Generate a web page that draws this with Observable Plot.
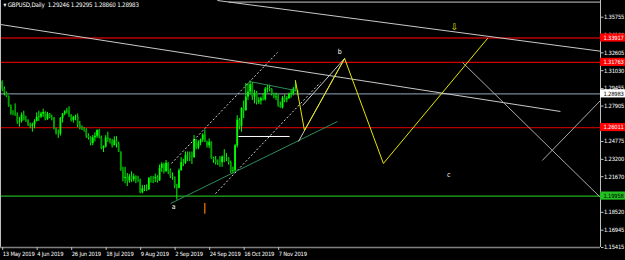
<!DOCTYPE html>
<html><head><meta charset="utf-8">
<script src="https://cdn.jsdelivr.net/npm/d3@7"></script>
<script src="https://cdn.jsdelivr.net/npm/@observablehq/plot@0.6"></script>
<style>
html,body{margin:0;padding:0;background:#000;overflow:hidden;}
#chart svg{display:block;}
</style></head><body><div id="chart"></div>
<script>
// ---- bar dates (GBPUSD daily) ----
const barDates = [
"2019-05-13","2019-05-14","2019-05-15","2019-05-16","2019-05-17","2019-05-20","2019-05-21","2019-05-22","2019-05-23","2019-05-24",
"2019-05-27","2019-05-28","2019-05-29","2019-05-30","2019-05-31","2019-06-03","2019-06-04","2019-06-05","2019-06-06","2019-06-07",
"2019-06-10","2019-06-11","2019-06-12","2019-06-13","2019-06-14","2019-06-17","2019-06-18","2019-06-19","2019-06-20","2019-06-21",
"2019-06-24","2019-06-25","2019-06-26","2019-06-27","2019-06-28","2019-07-01","2019-07-02","2019-07-03","2019-07-04","2019-07-05",
"2019-07-08","2019-07-09","2019-07-10","2019-07-11","2019-07-12","2019-07-15","2019-07-16","2019-07-17","2019-07-18","2019-07-19",
"2019-07-22","2019-07-23","2019-07-24","2019-07-25","2019-07-26","2019-07-29","2019-07-30","2019-07-31","2019-08-01","2019-08-02",
"2019-08-05","2019-08-06","2019-08-07","2019-08-08","2019-08-09","2019-08-12","2019-08-13","2019-08-14","2019-08-15","2019-08-16",
"2019-08-19","2019-08-20","2019-08-21","2019-08-22","2019-08-23","2019-08-26","2019-08-27","2019-08-28","2019-08-29","2019-08-30",
"2019-09-02","2019-09-03","2019-09-04","2019-09-05","2019-09-06","2019-09-09","2019-09-10","2019-09-11","2019-09-12","2019-09-13",
"2019-09-16","2019-09-17","2019-09-18","2019-09-19","2019-09-20","2019-09-23","2019-09-24","2019-09-25","2019-09-26","2019-09-27",
"2019-09-30","2019-10-01","2019-10-02","2019-10-03","2019-10-04","2019-10-07","2019-10-08","2019-10-09","2019-10-10","2019-10-11",
"2019-10-14","2019-10-15","2019-10-16","2019-10-17","2019-10-18","2019-10-21","2019-10-22","2019-10-23","2019-10-24","2019-10-25",
"2019-10-28","2019-10-29","2019-10-30","2019-10-31","2019-11-01","2019-11-04","2019-11-05","2019-11-06","2019-11-07","2019-11-08",
"2019-11-11","2019-11-12","2019-11-13","2019-11-14","2019-11-15","2019-11-18","2019-11-19","2019-11-20"];
const opens = [
1.3005,1.2940,1.2905,1.2870,1.2790,1.2720,1.2720,1.2715,1.2650,1.2655,
1.2710,1.2665,1.2660,1.2625,1.2610,1.2625,1.2655,1.2690,1.2695,1.2720,
1.2735,1.2670,1.2720,1.2690,1.2685,1.2590,1.2545,1.2545,1.2680,1.2720,
1.2740,1.2745,1.2705,1.2665,1.2690,1.2695,1.2625,1.2590,1.2580,1.2575,
1.2525,1.2510,1.2460,1.2510,1.2525,1.2575,1.2515,1.2415,1.2430,1.2510,
1.2495,1.2475,1.2440,1.2485,1.2455,1.2385,1.2220,1.2150,1.2160,1.2130,
1.2165,1.2140,1.2165,1.2140,1.2140,1.2025,1.2060,1.2055,1.2050,1.2150,
1.2150,1.2150,1.2160,1.2130,1.2240,1.2275,1.2210,1.2285,1.2220,1.2165,
1.2160,1.2075,1.2065,1.2220,1.2290,1.2285,1.2355,1.2350,1.2335,1.2335,
1.2495,1.2420,1.2465,1.2490,1.2535,1.2470,1.2440,1.2470,1.2330,1.2315,
1.2290,1.2290,1.2290,1.2340,1.2335,1.2330,1.2290,1.2215,1.2220,1.2440,
1.2665,1.2610,1.2770,1.2750,1.2870,1.2915,1.2980,1.2870,1.2900,1.2825,
1.2835,1.2855,1.2845,1.2940,1.2945,1.2935,1.2895,1.2865,1.2870,1.2795,
1.2775,1.2860,1.2845,1.2855,1.2895,1.2900,1.2940,1.29246];
const highs = [
1.3014,1.2960,1.2915,1.2880,1.2800,1.2750,1.2810,1.2730,1.2690,1.2730,
1.2745,1.2700,1.2670,1.2640,1.2640,1.2670,1.2730,1.2745,1.2735,1.2763,
1.2740,1.2735,1.2725,1.2710,1.2690,1.2595,1.2580,1.2690,1.2725,1.2750,
1.2770,1.2784,1.2715,1.2700,1.2710,1.2720,1.2655,1.2615,1.2600,1.2590,
1.2545,1.2520,1.2530,1.2555,1.2580,1.2585,1.2525,1.2440,1.2530,1.2560,
1.2505,1.2495,1.2520,1.2520,1.2470,1.2385,1.2250,1.2250,1.2195,1.2185,
1.2210,1.2190,1.2175,1.2170,1.2145,1.2090,1.2090,1.2095,1.2160,1.2170,
1.2170,1.2190,1.2175,1.2270,1.2290,1.2285,1.2310,1.2290,1.2235,1.2200,
1.2165,1.2100,1.2235,1.2335,1.2320,1.2385,1.2385,1.2385,1.2385,1.2530,
1.2495,1.2485,1.2500,1.2545,1.2580,1.2480,1.2500,1.2475,1.2340,1.2345,
1.2315,1.2345,1.2350,1.2405,1.2370,1.2335,1.2305,1.2250,1.2450,1.2705,
1.2680,1.2775,1.2835,1.2990,1.2990,1.3013,1.3000,1.2930,1.2920,1.2865,
1.2870,1.2900,1.2955,1.2975,1.2975,1.2945,1.2905,1.2905,1.2890,1.2825,
1.2875,1.2890,1.2875,1.2905,1.2935,1.2955,1.3000,1.29295];
const lows = [
1.2918,1.2880,1.2865,1.2780,1.2710,1.2705,1.2700,1.2630,1.2605,1.2640,
1.2660,1.2645,1.2610,1.2590,1.2560,1.2590,1.2650,1.2655,1.2680,1.2690,
1.2660,1.2665,1.2680,1.2660,1.2580,1.2535,1.2505,1.2525,1.2640,1.2705,
1.2720,1.2690,1.2650,1.2640,1.2660,1.2600,1.2580,1.2575,1.2560,1.2505,
1.2490,1.2440,1.2440,1.2475,1.2505,1.2500,1.2405,1.2380,1.2420,1.2470,
1.2455,1.2420,1.2440,1.2420,1.2380,1.2215,1.2120,1.2105,1.2080,1.2110,
1.2115,1.2120,1.2105,1.2115,1.2015,1.2015,1.2035,1.2035,1.2045,1.2110,
1.2105,1.2115,1.2110,1.2125,1.2205,1.2190,1.2205,1.2185,1.2150,1.2135,
1.2060,1.1959,1.2060,1.2215,1.2255,1.2275,1.2300,1.2300,1.2275,1.2330,
1.2405,1.2405,1.2440,1.2470,1.2470,1.2420,1.2415,1.2320,1.2285,1.2270,
1.2265,1.2250,1.2250,1.2290,1.2300,1.2270,1.2195,1.2190,1.2205,1.2420,
1.2580,1.2560,1.2680,1.2745,1.2840,1.2890,1.2840,1.2810,1.2800,1.2805,
1.2800,1.2835,1.2835,1.2905,1.2915,1.2880,1.2855,1.2840,1.2780,1.2770,
1.2765,1.2820,1.2820,1.2850,1.2860,1.2880,1.2915,1.28860];
const closes = [
1.2940,1.2905,1.2870,1.2790,1.2720,1.2720,1.2715,1.2650,1.2655,1.2710,
1.2665,1.2660,1.2625,1.2610,1.2625,1.2655,1.2690,1.2695,1.2720,1.2735,
1.2670,1.2720,1.2690,1.2685,1.2590,1.2545,1.2545,1.2680,1.2720,1.2740,
1.2745,1.2705,1.2665,1.2690,1.2695,1.2625,1.2590,1.2580,1.2575,1.2525,
1.2510,1.2460,1.2510,1.2525,1.2575,1.2515,1.2415,1.2430,1.2510,1.2495,
1.2475,1.2440,1.2485,1.2455,1.2385,1.2220,1.2150,1.2160,1.2130,1.2165,
1.2140,1.2165,1.2140,1.2140,1.2025,1.2060,1.2055,1.2050,1.2150,1.2150,
1.2150,1.2160,1.2130,1.2240,1.2275,1.2210,1.2285,1.2220,1.2165,1.2160,
1.2075,1.2065,1.2220,1.2290,1.2285,1.2355,1.2350,1.2335,1.2335,1.2495,
1.2420,1.2465,1.2490,1.2535,1.2470,1.2440,1.2470,1.2330,1.2315,1.2290,
1.2290,1.2290,1.2340,1.2335,1.2330,1.2290,1.2215,1.2220,1.2440,1.2665,
1.2610,1.2770,1.2750,1.2870,1.2915,1.2980,1.2870,1.2900,1.2825,1.2835,
1.2855,1.2845,1.2940,1.2945,1.2935,1.2895,1.2865,1.2870,1.2795,1.2775,
1.2860,1.2845,1.2855,1.2895,1.2900,1.2940,1.2925,1.28983];

// ---- axis ticks ----
const xTickBars = [0,16,32,48,64,80,96,112,128];
const xTickLabels = ["13 May 2019","4 Jun 2019","26 Jun 2019","18 Jul 2019","9 Aug 2019","2 Sep 2019","24 Sep 2019","16 Oct 2019","7 Nov 2019"];
const yTicks = [1.35755,1.34180,1.32605,1.31030,1.29455,1.27905,1.24775,1.23200,1.21670,1.18520,1.16945,1.15415];

// ---- horizontal levels ----
const levelPrices = [1.33917,1.31763,1.26011,1.19958];
const levelColors = ["#8b0000","#d00000","#b80000","#1fb01f"];
const levelWidths = [2.2,1.2,1.2,1.2];
const levelBoxColors = ["#ff0000","#ff0000","#ff0000","#22c022"];
const levelTextColors = ["#ffffff","#ffffff","#ffffff","#000000"];
const bidPrice = 1.28983;
const header = "\u25BE GBPUSD,Daily  1.29246 1.29295 1.28860 1.28983";

// ---- drawn objects: [bar1, price1, bar2, price2] ----
const grayTrends = [[-0.8,1.35111,258.9,1.27428],[99.8,1.37230,277.5,1.32753]];
const topLine = [[105.0,1.37090,277.5,1.37090]];
const dottedChannel = [[78.5,1.22837,127.7,1.32638],[98.9,1.20170,147.6,1.29989]];
const greenTrend = [[78.1,1.19302,155.5,1.26543]];
const tealTrend = [[114.7,1.30077,136.0,1.29282]];
const whiteFlat = [[109.6,1.25221,133.3,1.25221]];
const whiteToB = [[137.4,1.24780,158.8,1.32108],[139.3,1.27960,158.8,1.32108]];
const rightGray = [[213.5,1.31755,277.5,1.19830],[250.5,1.23101,277.5,1.28399]];
const yellowBars = [136.0,140.2,158.8,176.8,225.1];
const yellowPrices = [1.30165,1.25750,1.32108,1.22836,1.33874];
const waveLabels = ["a","b","c"];
const waveBars = [79.5,156.5,207.0];
const wavePrices = [1.19028,1.32726,1.21866];
const arrowBar = 209.8, arrowPrice = 1.34846;
const markBar = 93.9, markPrice = 1.18940;

// ---- build ----
const FONT = "'Liberation Sans Narrow', 'DejaVu Sans Condensed', 'Liberation Sans', sans-serif";
const FS = 5.8;
const xDomain = [-0.79, 277.5];
const yDomain = [1.15415, 1.3723];
const pxPerBar = 600 / (xDomain[1] - xDomain[0]);
const boxEnd = xDomain[1] + 25 / pxPerBar;

const bars = barDates.map((d, i) => ({i, date: d, o: opens[i], h: highs[i], l: lows[i], c: closes[i], up: closes[i] >= opens[i]}));
const seg = arr => arr.map(([x1, y1, x2, y2]) => ({x1, y1, x2, y2}));
const levels = levelPrices.map((p, k) => ({p, color: levelColors[k], w: levelWidths[k], box: levelBoxColors[k], tc: levelTextColors[k]}));
const yellowPts = yellowBars.map((b, k) => ({x: b, y: yellowPrices[k]}));
const waves = waveLabels.map((t, k) => ({t, x: waveBars[k], y: wavePrices[k]}));

const segMark = (arr, opts) => Plot.link(seg(arr), {x1: "x1", y1: "y1", x2: "x2", y2: "y2", clip: true, ...opts});

const chart = Plot.plot({
  width: 625, height: 260,
  marginTop: 0, marginBottom: 13, marginLeft: 0, marginRight: 25,
  style: {background: "#000", color: "#fff", fontFamily: FONT, fontSize: FS + "px", letterSpacing: "-0.2px"},
  x: {domain: xDomain, axis: null},
  y: {domain: yDomain, axis: null},
  marks: [
    // horizontal levels
    Plot.ruleY(levels, {y: "p", stroke: "color", strokeWidth: "w", x1: xDomain[0], x2: xDomain[1]}),
    Plot.ruleY([bidPrice], {stroke: "#778899", strokeWidth: 1.2, x1: xDomain[0], x2: xDomain[1]}),
    // candles
    Plot.ruleX(bars, {x: "i", y1: "l", y2: "h", stroke: "#00ff00", strokeWidth: 1}),
    Plot.ruleX(bars, {x: "i", y1: "o", y2: "c", stroke: d => d.up ? "#00ff00" : "#00a000", strokeWidth: 1.8}),
    // trend lines
    segMark(grayTrends, {stroke: "#c8c8c8", strokeWidth: 1}),
    segMark(topLine, {stroke: "#c8c8c8", strokeWidth: 1}),
    segMark(dottedChannel, {stroke: "#d0d0d0", strokeWidth: 1, strokeDasharray: "2,2"}),
    segMark(greenTrend, {stroke: "#2e8b57", strokeWidth: 1}),
    segMark(tealTrend, {stroke: "#2e8b57", strokeWidth: 1}),
    segMark(whiteFlat, {stroke: "#ffffff", strokeWidth: 1}),
    segMark(whiteToB, {stroke: "#c8c8c8", strokeWidth: 1}),
    segMark(rightGray, {stroke: "#a9a9a9", strokeWidth: 1}),
    Plot.line(yellowPts, {x: "x", y: "y", stroke: "#e6e600", strokeWidth: 1}),
    // labels
    Plot.text(waves, {x: "x", y: "y", text: "t", fill: "#ffffff", fontSize: 7}),
    Plot.text(["\u21E9"], {x: arrowBar, y: arrowPrice, fill: "#e6e600", fontSize: 9, fontFamily: "DejaVu Sans"}),
    Plot.text(["|"], {x: markBar, y: markPrice, fill: "#ff8c00", fontSize: 10, fontWeight: "bold"}),
    Plot.text([header], {frameAnchor: "top-left", dx: 3, dy: 2, fill: "#ffffff", fontSize: 6.2}),
    // frame lines
    Plot.ruleX([xDomain[0]], {stroke: "#c0c0c0", strokeWidth: 1}),
    Plot.ruleX([xDomain[1]], {stroke: "#c0c0c0", strokeWidth: 1}),
    Plot.ruleY([yDomain[0]], {stroke: "#808080", strokeWidth: 1.5}),
    // axes
    Plot.axisY(yTicks, {anchor: "right", tickSize: 2.5, tickPadding: 1, tickFormat: d => d.toFixed(5), fontSize: FS, stroke: "#c0c0c0", fill: "#ffffff"}),
    Plot.axisX(xTickBars, {anchor: "bottom", tickSize: 3, tickPadding: 1, tickFormat: (d, k) => xTickLabels[k], textAnchor: "start", dx: 0.5, fontSize: FS, stroke: "#c0c0c0", fill: "#ffffff"}),
    // price boxes on axis
    Plot.rect(levels, {x1: xDomain[1], x2: boxEnd, y1: d => d.p - 0.0036, y2: d => d.p + 0.0036, fill: "box"}),
    Plot.text(levels, {x: xDomain[1], y: "p", text: d => d.p.toFixed(5), fill: "tc", textAnchor: "start", dx: 3, fontSize: FS}),
    Plot.rect([bidPrice], {x1: xDomain[1], x2: boxEnd, y1: d => d - 0.0036, y2: d => d + 0.0036, fill: "#ffffff"}),
    Plot.text([bidPrice], {x: xDomain[1], y: d => d, text: d => d.toFixed(5), fill: "#000000", textAnchor: "start", dx: 3, fontSize: FS})
  ]
});
document.getElementById("chart").appendChild(chart);
</script>
</body></html>
